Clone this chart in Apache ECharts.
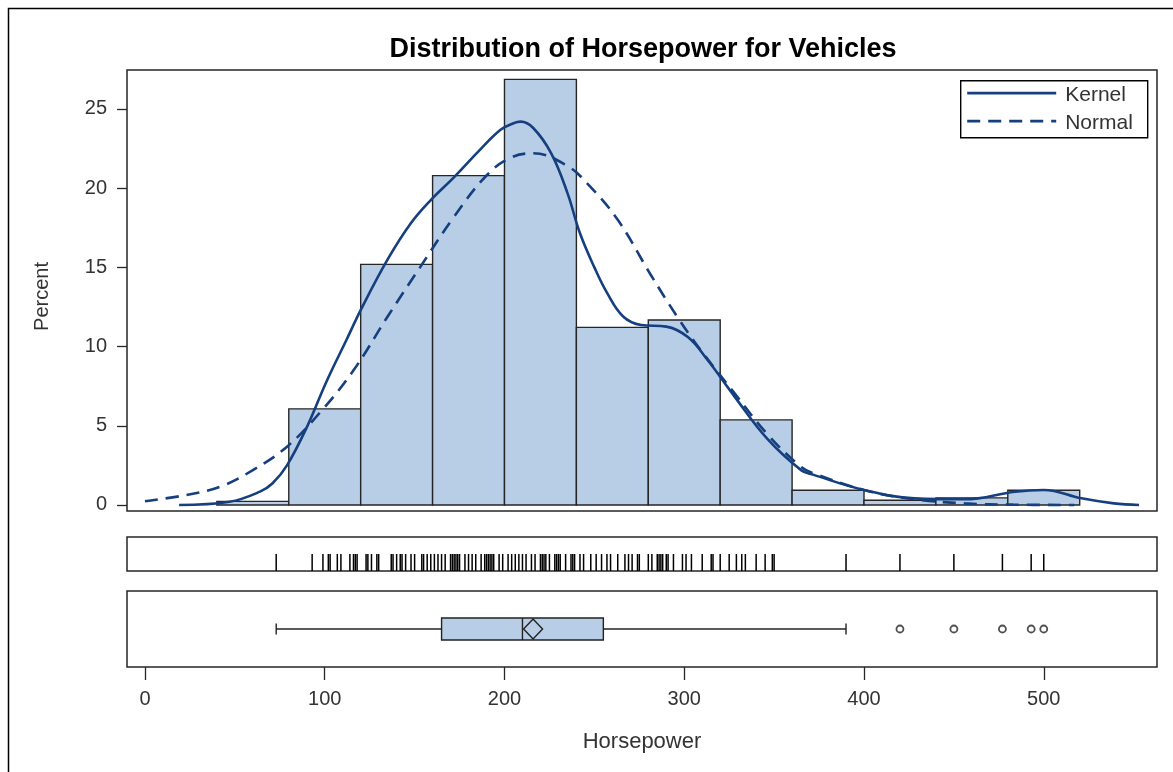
<!DOCTYPE html>
<html>
<head>
<meta charset="utf-8">
<script src="https://cdn.jsdelivr.net/npm/echarts@6/dist/echarts.min.js"></script>
<style>
  html, body { margin: 0; padding: 0; background: #fff; }
  #chart { width: 1173px; height: 772px; }
</style>
</head>
<body>
<div id="chart"></div>
<script>
// Histogram bins (horsepower) and percent of vehicles per bin
const binStart   = [40, 80, 120, 160, 200, 240, 280, 320, 360, 400, 440, 480];
const binEnd     = [80, 120, 160, 200, 240, 280, 320, 360, 400, 440, 480, 520];
const binPercent = [0.23, 6.07, 15.19, 20.79, 26.87, 11.21, 11.68, 5.37, 0.93, 0.3, 0.45, 0.93];

// Kernel density estimate (percent scale)
const kernelX = [19, 47, 64, 71, 79, 90, 101, 112, 120, 135, 148, 159, 172, 187, 198, 205, 209, 216, 226, 235, 242, 250, 257, 266, 276, 290, 302, 313, 328, 346, 365, 372, 400, 428, 456, 484, 500, 521, 539, 553];
const kernelY = [0.0, 0.2, 0.84, 1.37, 2.5, 4.9, 7.8, 10.4, 12.3, 15.5, 17.8, 19.25, 20.7, 22.5, 23.7, 24.1, 24.2, 23.8, 22.2, 19.7, 17.15, 15.0, 13.4, 11.9, 11.36, 11.26, 10.6, 9.15, 6.84, 4.2, 2.2, 1.9, 0.95, 0.42, 0.36, 0.84, 0.95, 0.42, 0.1, 0.0];

// Fitted normal curve (percent scale)
const normalX = [0, 23, 42, 60, 79, 97, 116, 135, 153, 172, 190, 203, 216, 235, 246, 263, 281, 296, 309, 328, 346, 365, 372, 400, 428, 456, 483, 517];
const normalY = [0.24, 0.63, 1.16, 2.2, 3.68, 5.79, 8.5, 11.9, 15.0, 18.2, 20.8, 21.9, 22.2, 21.4, 20.3, 18.0, 14.6, 11.9, 9.8, 7.05, 4.5, 2.4, 2.0, 0.95, 0.36, 0.1, 0.02, 0.0];

// Individual horsepower values shown as a rug
const rugValues = [73, 93, 99, 102, 103, 107, 109, 114, 116, 117, 118, 123, 124, 126, 129, 130,
  137, 138, 140, 142, 143, 145, 148, 150, 154, 155, 157, 159, 161, 163, 165, 167, 170, 171, 172,
  173, 174, 175, 178, 180, 182, 184, 187, 189, 190, 191, 192, 193, 194, 197, 199, 202, 204, 206,
  208, 210, 212, 215, 217, 220, 221, 222, 223, 225, 228, 229, 230, 231, 234, 237, 238, 239, 242,
  244, 248, 251, 254, 257, 259, 263, 267, 269, 271, 274, 275, 280, 282, 285, 286, 287, 288, 290,
  291, 294, 299, 301, 304, 310, 315, 316, 320, 325, 329, 332, 334, 340, 345, 349, 350, 390, 420,
  450, 477, 493, 500];

// Box plot summary: min whisker, Q1, median, Q3, max whisker; mean; outliers
const boxStats = [73, 165, 210, 255, 390];
const meanValue = 215.9;
const outliers = [420, 450, 477, 493, 500];

// Tick labels
const xTicks = [0, 100, 200, 300, 400, 500];
const yTicks = [0, 5, 10, 15, 20, 25];

const lineBlue = '#153f7f';
const barFill = '#b8cee7';
const frame = '#262626';
const FONT = 'Liberation Sans, Arial, sans-serif';

const X_MIN = -10, X_MAX = 563;

function hiddenX(idx) {
  return {
    type: 'value', gridIndex: idx, min: X_MIN, max: X_MAX,
    axisLine: { show: false, onZero: false }, axisTick: { show: false },
    axisLabel: { show: false }, splitLine: { show: false }
  };
}
function hiddenY(idx) {
  return {
    type: 'value', gridIndex: idx, min: 0, max: 1,
    axisLine: { show: false, onZero: false }, axisTick: { show: false },
    axisLabel: { show: false }, splitLine: { show: false }
  };
}

const chart = echarts.init(document.getElementById('chart'), null, { renderer: 'canvas' });

const gridStyle = { show: true, borderColor: frame, borderWidth: 1.5, backgroundColor: 'transparent' };

const option = {
  backgroundColor: '#fff',
  animation: false,
  title: {
    text: 'Distribution of Horsepower for Vehicles',
    left: 638, top: 31, textAlign: 'center',
    textStyle: { fontFamily: FONT, fontWeight: 'bold', fontSize: 27, color: '#000' }
  },
  grid: [
    Object.assign({ left: 127, top: 70, width: 1030, height: 441 }, gridStyle),
    Object.assign({ left: 127, top: 537, width: 1030, height: 34 }, gridStyle),
    Object.assign({ left: 127, top: 591, width: 1030, height: 76 }, gridStyle)
  ],
  xAxis: [
    hiddenX(0),
    hiddenX(1),
    {
      type: 'value', gridIndex: 2, min: X_MIN, max: X_MAX, position: 'bottom',
      axisLine: { show: false, onZero: false },
      axisTick: { show: true, length: 13, customValues: xTicks, lineStyle: { color: frame, width: 1.3 } },
      axisLabel: { customValues: xTicks, margin: 22, fontFamily: FONT, fontSize: 20, color: '#333' },
      splitLine: { show: false },
      name: 'Horsepower', nameLocation: 'middle', nameGap: 64,
      nameTextStyle: { fontFamily: FONT, fontSize: 22, color: '#333' }
    }
  ],
  yAxis: [
    {
      type: 'value', gridIndex: 0, min: -0.38, max: 27.46, position: 'left',
      axisLine: { show: false, onZero: false },
      axisTick: { show: true, length: 10, customValues: yTicks, lineStyle: { color: frame, width: 1.3 } },
      axisLabel: { customValues: yTicks, margin: 20, fontFamily: FONT, fontSize: 20, color: '#333' },
      splitLine: { show: false },
      name: 'Percent', nameLocation: 'middle', nameGap: 75, nameRotate: 90,
      nameTextStyle: { fontFamily: FONT, fontSize: 20, color: '#333', padding: [0, 0, 0, -12] }
    },
    hiddenY(1),
    hiddenY(2)
  ],
  series: [
    {
      // Histogram bars
      type: 'custom', xAxisIndex: 0, yAxisIndex: 0,
      data: binStart.map((s, i) => [s, binEnd[i], binPercent[i]]),
      renderItem: function (params, api) {
        const p0 = api.coord([api.value(0), api.value(2)]);
        const p1 = api.coord([api.value(1), 0]);
        return {
          type: 'rect',
          shape: { x: p0[0], y: p0[1], width: p1[0] - p0[0], height: p1[1] - p0[1] },
          style: { fill: barFill, stroke: frame, lineWidth: 1.4 }
        };
      },
      z: 2
    },
    {
      name: 'Kernel', type: 'line', xAxisIndex: 0, yAxisIndex: 0,
      data: kernelX.map((x, i) => [x, kernelY[i]]),
      smooth: 0.4, showSymbol: false, symbol: 'none',
      lineStyle: { color: lineBlue, width: 2.6 }, z: 3
    },
    {
      name: 'Normal', type: 'line', xAxisIndex: 0, yAxisIndex: 0,
      data: normalX.map((x, i) => [x, normalY[i]]),
      smooth: 0.4, showSymbol: false, symbol: 'none',
      lineStyle: { color: lineBlue, width: 2.6, type: [13, 8] }, z: 3
    },
    {
      // Rug of individual observations
      type: 'custom', xAxisIndex: 1, yAxisIndex: 1,
      data: rugValues.map(v => [v]),
      renderItem: function (params, api) {
        const a = api.coord([api.value(0), 0]);
        const b = api.coord([api.value(0), 0.5]);
        return {
          type: 'line',
          shape: { x1: a[0], y1: a[1], x2: a[0], y2: b[1] },
          style: { stroke: '#000', lineWidth: 1.5 }
        };
      }
    },
    {
      // Box plot with whiskers, median and mean marker
      type: 'custom', xAxisIndex: 2, yAxisIndex: 2,
      data: [[boxStats[0], boxStats[1], boxStats[2], boxStats[3], boxStats[4], meanValue]],
      renderItem: function (params, api) {
        const y = api.coord([0, 0.5])[1];
        const px = i => api.coord([api.value(i), 0.5])[0];
        const lo = px(0), q1 = px(1), md = px(2), q3 = px(3), hi = px(4), mn = px(5);
        const bh = 11, cap = 5.5, dw = 9.5, dh = 10;
        const st = { stroke: '#222', lineWidth: 1.4 };
        return {
          type: 'group',
          children: [
            { type: 'line', shape: { x1: lo, y1: y, x2: q1, y2: y }, style: st },
            { type: 'line', shape: { x1: q3, y1: y, x2: hi, y2: y }, style: st },
            { type: 'line', shape: { x1: lo, y1: y - cap, x2: lo, y2: y + cap }, style: st },
            { type: 'line', shape: { x1: hi, y1: y - cap, x2: hi, y2: y + cap }, style: st },
            { type: 'rect', shape: { x: q1, y: y - bh, width: q3 - q1, height: 2 * bh }, style: { fill: barFill, stroke: '#222', lineWidth: 1.4 } },
            { type: 'line', shape: { x1: md, y1: y - bh, x2: md, y2: y + bh }, style: st },
            { type: 'polygon', shape: { points: [[mn, y - dh], [mn + dw, y], [mn, y + dh], [mn - dw, y]] }, style: { fill: 'none', stroke: '#222', lineWidth: 1.4 } }
          ]
        };
      }
    },
    {
      // Outliers
      type: 'scatter', xAxisIndex: 2, yAxisIndex: 2,
      data: outliers.map(v => [v, 0.5]),
      symbol: 'circle', symbolSize: 7,
      itemStyle: { color: '#fff', borderColor: '#222', borderWidth: 1.8 }
    }
  ],
  graphic: [
    // Outer frame
    { type: 'rect', shape: { x: 8.5, y: 8.5, width: 1200, height: 800 }, style: { fill: 'none', stroke: '#000', lineWidth: 1.5 }, silent: true },
    // Legend
    {
      type: 'group', left: 960, top: 80,
      children: [
        { type: 'rect', shape: { x: 0.5, y: 0.5, width: 187, height: 57 }, style: { fill: '#fff', stroke: '#000', lineWidth: 1.4 } },
        { type: 'line', shape: { x1: 7, y1: 13, x2: 96, y2: 13 }, style: { stroke: lineBlue, lineWidth: 2.8 } },
        { type: 'line', shape: { x1: 7, y1: 41, x2: 96, y2: 41 }, style: { stroke: lineBlue, lineWidth: 2.8, lineDash: [13, 8] } },
        { type: 'text', x: 105, y: 15, style: { text: 'Kernel', fontFamily: FONT, fontSize: 21, fill: '#333', textVerticalAlign: 'middle' } },
        { type: 'text', x: 105, y: 43, style: { text: 'Normal', fontFamily: FONT, fontSize: 21, fill: '#333', textVerticalAlign: 'middle' } }
      ]
    }
  ]
};

chart.setOption(option);
</script>
</body>
</html>
